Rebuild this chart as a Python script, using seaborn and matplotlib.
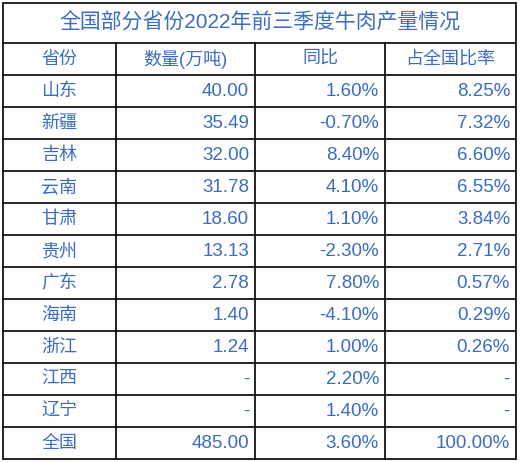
import matplotlib
matplotlib.use("Agg")
import matplotlib.pyplot as plt
import seaborn as sns

title = "全国部分省份2022年前三季度牛肉产量情况"
headers = ["省份", "数量(万吨)", "同比", "占全国比率"]
provinces = ["山东", "新疆", "吉林", "云南", "甘肃", "贵州", "广东", "海南", "浙江", "江西", "辽宁", "全国"]
amount = ["40.00", "35.49", "32.00", "31.78", "18.60", "13.13", "2.78", "1.40", "1.24", "-", "-", "485.00"]
yoy = ["1.60%", "-0.70%", "8.40%", "4.10%", "1.10%", "-2.30%", "7.80%", "-4.10%", "1.00%", "2.20%", "1.40%", "3.60%"]
share = ["8.25%", "7.32%", "6.60%", "6.55%", "3.84%", "2.71%", "0.57%", "0.29%", "0.26%", "-", "-", "100.00%"]

sns.set_theme(style="white")
plt.rcParams['font.family'] = ['Noto Sans CJK SC', 'DejaVu Sans']
num_font = ['Liberation Sans', 'Noto Sans CJK SC']

fig = plt.figure(figsize=(5.2, 4.62), dpi=100)
ax = fig.add_axes([0, 0, 1, 1])
ax.set_xlim(0, 520)
ax.set_ylim(462, 0)
ax.axis("off")

blue = "#3a6cc0"
cols = [3, 116, 255, 385, 516]
top, title_h, head_h, row_h = 3, 40, 32, 32
y_head = top + title_h
y_rows = y_head + head_h
bottom = y_rows + row_h * len(provinces)

# borders
lw = 1.2
ax.plot([cols[0], cols[-1]], [top, top], color="black", lw=lw)
ax.plot([cols[0], cols[-1]], [y_head, y_head], color="black", lw=lw)
for i in range(len(provinces) + 1):
    y = y_rows + i * row_h
    ax.plot([cols[0], cols[-1]], [y, y], color="black", lw=lw)
for x in (cols[0], cols[-1]):
    ax.plot([x, x], [top, bottom], color="black", lw=lw)
for x in cols[1:-1]:
    ax.plot([x, x], [y_head, bottom], color="black", lw=lw)

ax.text((cols[0] + cols[-1]) / 2, top + title_h / 2, title, ha="center", va="center",
        fontsize=15, color=blue, family=num_font)
for j, h in enumerate(headers):
    ax.text((cols[j] + cols[j + 1]) / 2, y_head + head_h / 2, h, ha="center", va="center",
            fontsize=13, color=blue, family=num_font)

for i, p in enumerate(provinces):
    yc = y_rows + i * row_h + row_h / 2
    ax.text((cols[0] + cols[1]) / 2, yc, p, ha="center", va="center", fontsize=13, color=blue)
    for j, v in enumerate([amount[i], yoy[i], share[i]], start=1):
        ax.text(cols[j + 1] - 6, yc, v, ha="right", va="center", fontsize=13.5,
                color=blue, family=num_font)

fig.savefig("out.png", dpi=100)
